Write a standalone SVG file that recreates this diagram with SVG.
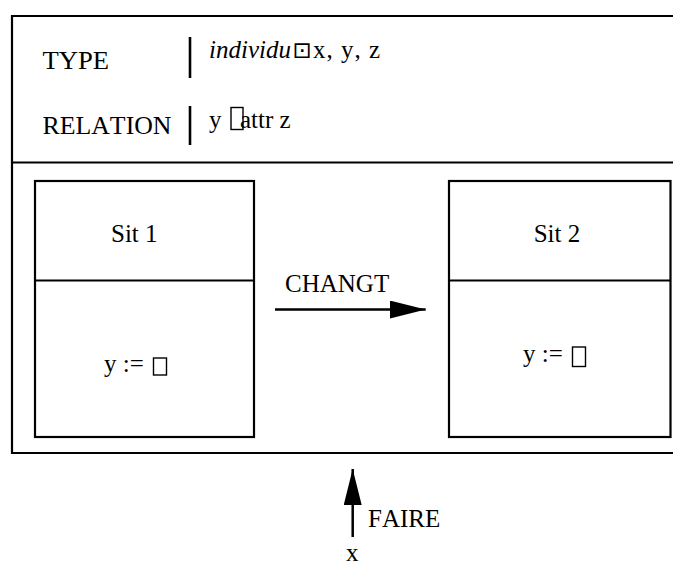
<svg xmlns="http://www.w3.org/2000/svg" width="673" height="565" viewBox="0 0 673 565">
<style>
.t{font-family:"Liberation Serif","Times New Roman",serif;font-size:25px;fill:#000;font-kerning:none}
.i{font-style:italic}
.sym{font-family:"DejaVu Sans",sans-serif}
.box{fill:none;stroke:#000;stroke-width:2.2}
.tofu{fill:none;stroke:#000;stroke-width:1.4}
.bar{stroke:#000;stroke-width:2.6}
.con{stroke:#000;stroke-width:2.5;fill:none}
</style>
<defs>
<marker id="ah" markerUnits="userSpaceOnUse" markerWidth="36" markerHeight="18" refX="36" refY="9" orient="auto">
<path d="M0,0 L36,9 L0,18 z" fill="#000"/>
</marker>
</defs>
<g id="frame">
<path class="box" d="M690,16 H12 V453 H690"/>
<line class="box" x1="12" y1="162.5" x2="690" y2="162.5"/>
</g>
<g id="header">
<text class="t" x="42.5" y="69" textLength="66.5" lengthAdjust="spacingAndGlyphs">TYPE</text>
<line class="bar" x1="190" y1="37" x2="190" y2="78"/>
<text class="t" y="57.5"><tspan class="i" x="209" textLength="82" lengthAdjust="spacing">individu</tspan><tspan class="sym" x="292.5" font-size="23">⊡</tspan><tspan x="313" textLength="67" lengthAdjust="spacing">x, y, z</tspan></text>
<text class="t" x="42.5" y="133.5" textLength="129" lengthAdjust="spacingAndGlyphs">RELATION</text>
<line class="bar" x1="190" y1="106" x2="190" y2="145"/>
<text class="t" y="128"><tspan x="209">y </tspan><tspan x="240">attr z</tspan></text>
<rect class="tofu" x="231" y="107.5" width="12" height="22"/>
</g>
<g id="sit1">
<rect class="box" x="35" y="181" width="219" height="256"/>
<line class="box" x1="35" y1="280.5" x2="254" y2="280.5"/>
<text class="t" x="111" y="241.7">Sit 1</text>
<text class="t" x="104" y="372">y := </text>
<rect class="tofu" x="153.5" y="358" width="13" height="17"/>
</g>
<g id="sit2">
<rect class="box" x="449" y="181" width="221.5" height="256"/>
<line class="box" x1="449" y1="280.5" x2="670.5" y2="280.5"/>
<text class="t" x="533.7" y="241.7">Sit 2</text>
<text class="t" x="523" y="362">y := </text>
<rect class="tofu" x="572.5" y="347" width="13" height="19.5"/>
</g>
<g id="connectors">
<line class="con" x1="275" y1="309.5" x2="425.7" y2="309.5" marker-end="url(#ah)"/>
<line class="con" x1="352.7" y1="537" x2="352.7" y2="469" marker-end="url(#ah)"/>
</g>
<g id="labels">
<text class="t" x="285" y="291.7">CHANGT</text>
<text class="t" x="368" y="527">FAIRE</text>
<text class="t" x="346" y="561" font-size="18">x</text>
</g>
</svg>
